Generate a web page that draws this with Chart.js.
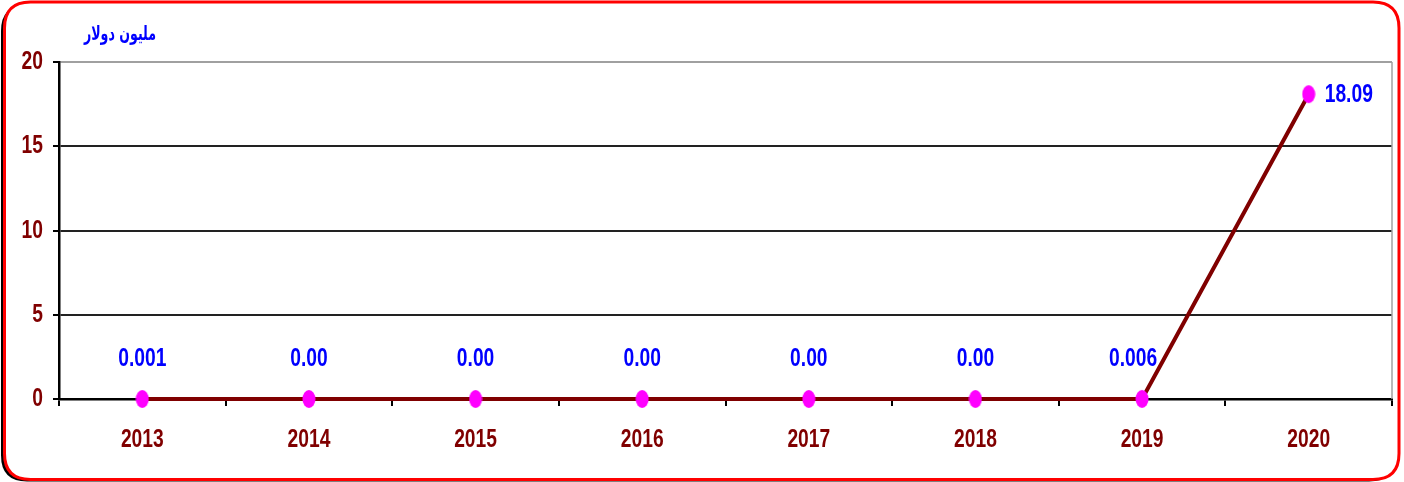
<!DOCTYPE html>
<html>
<head>
<meta charset="utf-8">
<title>مليون دولار</title>
<script src="https://cdn.jsdelivr.net/npm/chart.js"></script>
<style>
  html, body { margin: 0; padding: 0; background: #fff; }
  #wrap { width: 1404px; height: 482px; }
</style>
</head>
<body>
<div id="wrap"><canvas id="grafica" width="1404" height="482"></canvas></div>
<script>
// Datos
const years = ['2013', '2014', '2015', '2016', '2017', '2018', '2019', '2020'];
const values = [0.001, 0, 0, 0, 0, 0, 0.006, 18.09];
const valueLabels = ['0.001', '0.00', '0.00', '0.00', '0.00', '0.00', '0.006', '18.09'];
const yTicks = [0, 5, 10, 15, 20];
const unitTitle = 'مليون دولار';

// letra estrecha: Liberation Sans en negrita comprimida en horizontal
const numFont = 'bold 26px "Liberation Sans", Arial, sans-serif';
const squeeze = 0.74;

function narrowText(ctx, text, x, y, align) {
  ctx.save();
  ctx.font = numFont;
  ctx.textAlign = align;
  ctx.textBaseline = 'middle';
  ctx.translate(x, y);
  ctx.scale(squeeze, 1);
  ctx.fillText(text, 0, 0);
  ctx.restore();
}

function roundRect(ctx, x, y, w, h, r) {
  ctx.beginPath();
  ctx.moveTo(x + r, y);
  ctx.lineTo(x + w - r, y);
  ctx.quadraticCurveTo(x + w, y, x + w, y + r);
  ctx.lineTo(x + w, y + h - r);
  ctx.quadraticCurveTo(x + w, y + h, x + w - r, y + h);
  ctx.lineTo(x + r, y + h);
  ctx.quadraticCurveTo(x, y + h, x, y + h - r);
  ctx.lineTo(x, y + r);
  ctx.quadraticCurveTo(x, y, x + r, y);
  ctx.closePath();
}

// punto magenta un poco alargado, como en la figura
const punto = document.createElement('canvas');
punto.width = 14;
punto.height = 20;
(function () {
  const c = punto.getContext('2d');
  c.fillStyle = '#ff00ff';
  c.beginPath();
  c.ellipse(7, 10, 6.5, 9, 0, 0, Math.PI * 2);
  c.fill();
})();

// Marco rojo redondeado con sombra negra
const marco = {
  id: 'marco',
  beforeDraw(chart) {
    const ctx = chart.ctx;
    ctx.save();
    ctx.fillStyle = '#fff';
    ctx.fillRect(0, 0, chart.width, chart.height);
    roundRect(ctx, 1, 5, 1394, 476.5, 26);
    ctx.fillStyle = '#000';
    ctx.fill();
    roundRect(ctx, 4.5, 2, 1394.5, 477.5, 26);
    ctx.fillStyle = '#fff';
    ctx.fill();
    ctx.lineWidth = 3;
    ctx.strokeStyle = '#ff0000';
    ctx.stroke();
    ctx.restore();
  },
  beforeDatasetsDraw(chart) {
    const { ctx, chartArea } = chart;
    ctx.save();
    ctx.strokeStyle = '#a0a0a0';
    ctx.lineWidth = 1.5;
    ctx.beginPath();
    ctx.moveTo(chartArea.right, chartArea.top);
    ctx.lineTo(chartArea.right, chartArea.bottom);
    ctx.stroke();
    ctx.restore();
  },
  afterDraw(chart) {
    const ctx = chart.ctx;
    // etiquetas de los ejes
    ctx.fillStyle = '#800000';
    const xs = chart.scales.x, ys = chart.scales.y;
    xs.ticks.forEach((t, i) => {
      narrowText(ctx, xs.getLabelForValue(t.value), xs.getPixelForTick(i), xs.top + 41, 'center');
    });
    ys.ticks.forEach((t, i) => {
      narrowText(ctx, String(t.value), ys.right - 16, ys.getPixelForTick(i), 'right');
    });
    // título de unidades
    ctx.save();
    ctx.fillStyle = '#0000ff';
    ctx.font = 'bold 20px "DejaVu Sans", sans-serif';
    ctx.direction = 'rtl';
    ctx.textAlign = 'right';
    ctx.textBaseline = 'middle';
    ctx.translate(156, 35);
    ctx.scale(0.63, 1);
    ctx.fillText(unitTitle, 0, 0);
    ctx.restore();
  }
};

// Etiquetas de valores
const etiquetas = {
  id: 'etiquetas',
  afterDatasetsDraw(chart) {
    const ctx = chart.ctx;
    const meta = chart.getDatasetMeta(0);
    ctx.fillStyle = '#0000ff';
    meta.data.forEach((pt, i) => {
      if (i === meta.data.length - 1) {
        narrowText(ctx, valueLabels[i], pt.x + 16, pt.y + 1, 'left');
      } else {
        narrowText(ctx, valueLabels[i], pt.x - (i === 6 ? 9 : 0), pt.y - 40, 'center');
      }
    });
  }
};

const grafica = new Chart(document.getElementById('grafica'), {
  type: 'line',
  data: {
    labels: years,
    datasets: [{
      data: values,
      borderColor: '#800000',
      borderWidth: 4,
      pointStyle: punto,
      pointRadius: 8,
      tension: 0,
      clip: false
    }]
  },
  options: {
    responsive: false,
    animation: false,
    events: [],
    layout: { padding: { top: 62, right: 12, left: 0, bottom: 0 } },
    plugins: {
      legend: { display: false },
      tooltip: { enabled: false }
    },
    scales: {
      x: {
        offset: true,
        grid: {
          offset: true,
          drawOnChartArea: false,
          drawTicks: true,
          tickLength: 7,
          color: '#000',
          lineWidth: 2
        },
        border: { color: '#000', width: 2.5 },
        ticks: { display: false },
        afterFit(scale) { scale.height = 83; }
      },
      y: {
        min: 0,
        max: 20,
        afterBuildTicks(scale) { scale.ticks = yTicks.map(v => ({ value: v })); },
        grid: {
          color: ctx => (ctx.tick && ctx.tick.value === 20) ? '#a0a0a0' : '#222',
          lineWidth: 2,
          tickLength: 6,
          tickColor: '#000'
        },
        border: { color: '#000', width: 2.5 },
        ticks: { display: false },
        afterFit(scale) { scale.width = 59; }
      }
    }
  },
  plugins: [marco, etiquetas]
});
</script>
</body>
</html>
